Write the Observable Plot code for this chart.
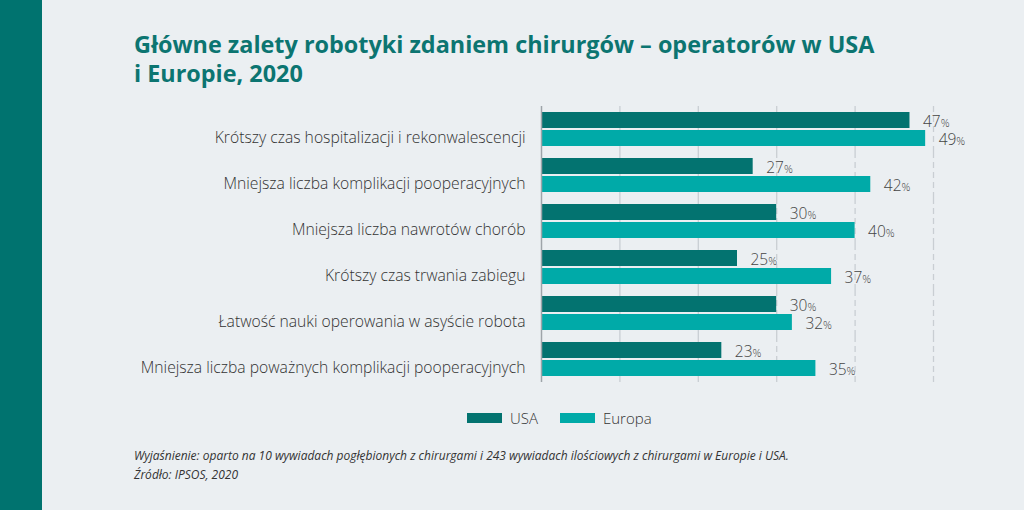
<!DOCTYPE html>
<html>
<head>
<meta charset="utf-8">
<script src="https://cdn.jsdelivr.net/npm/d3@7"></script>
<script src="https://cdn.jsdelivr.net/npm/@observablehq/plot@0.6"></script>
<style>
  html, body { margin: 0; padding: 0; }
  body { width: 1024px; height: 510px; background: #ebeff2; position: relative; overflow: hidden; font-family: "Open Sans", sans-serif; }
  #stripe { position: absolute; left: 0; top: 0; width: 42px; height: 510px; background: #00736f; }
  .title { position: absolute; left: 134px; font-size: 23.4px; line-height: 26px; font-weight: 700; color: #0c7571; white-space: nowrap; }
  #t1 { top: 31px; }
  #t2 { top: 60px; }
  #chart { position: absolute; left: 0; top: 96px; }
  #legend { position: absolute; left: 467px; top: 408px; display: flex; align-items: center; font-size: 15px; font-weight: 300; color: #333; }
  .sw { width: 35px; height: 10px; display: inline-block; margin-right: 8px; }
  .item { display: flex; align-items: center; margin-right: 22px; }
  #caption { position: absolute; left: 134px; top: 446px; font-size: 12px; line-height: 19px; font-style: italic; color: #333; }
</style>
</head>
<body>
<div id="stripe"></div>
<div class="title" id="t1">Główne zalety robotyki zdaniem chirurgów – operatorów w USA</div>
<div class="title" id="t2">i Europie, 2020</div>
<div id="chart"></div>
<div id="legend"></div>
<div id="caption">Wyjaśnienie: oparto na 10 wywiadach pogłębionych z chirurgami i 243 wywiadach ilościowych z chirurgami w Europie i USA.<br>Źródło: IPSOS, 2020</div>
<script>
const categories = [
  "Krótszy czas hospitalizacji i rekonwalescencji",
  "Mniejsza liczba komplikacji pooperacyjnych",
  "Mniejsza liczba nawrotów chorób",
  "Krótszy czas trwania zabiegu",
  "Łatwość nauki operowania w asyście robota",
  "Mniejsza liczba poważnych komplikacji pooperacyjnych"
];
const usa = [47, 27, 30, 25, 30, 23];
const europa = [49, 42, 40, 37, 32, 35];
const seriesNames = ["USA", "Europa"];
const seriesColors = ["#037370", "#00aaa8"];
const xTicks = [10, 20, 30, 40, 50];

const data = categories.flatMap((c, i) => [
  {category: c, series: "USA", value: usa[i]},
  {category: c, series: "Europa", value: europa[i]}
]);

const chart = Plot.plot({
  width: 1024,
  height: 296,
  marginLeft: 541,
  marginRight: 91,
  marginTop: 10,
  marginBottom: 10,
  style: {background: "transparent", fontFamily: "'Open Sans', sans-serif", overflow: "visible"},
  x: {domain: [0, 50], axis: null},
  y: {domain: seriesNames, paddingInner: 2 / 18, paddingOuter: 6 / 18, axis: null},
  fy: {domain: categories, padding: 0, axis: null},
  color: {domain: seriesNames, range: seriesColors},
  facet: {data, y: "category"},
  marks: [
    Plot.ruleX(xTicks, {stroke: "#c9ced3", strokeDasharray: "6,4", strokeWidth: 1.3}),
    Plot.barX(data, {x: "value", y: "series", fill: "series"}),
    Plot.ruleX([0], {stroke: "#9ea4a9", strokeWidth: 1.5}),
    Plot.text(data, {x: "value", y: "series", text: d => d.value + "%", textAnchor: "start", dx: 13, dy: 2, fontSize: 15.5, fontWeight: 300, fill: "#444"}),
    Plot.text(data, {x: 0, y: "series", text: d => d.series === "Europa" ? d.category : "", textAnchor: "end", dx: -16, dy: -1, fontSize: 15.7, fontWeight: 300, fill: "#333"})
  ]
});

// make the "%" sign smaller than the number
d3.select(chart).selectAll("text").each(function() {
  const t = this.textContent;
  if (/^\d+%$/.test(t)) {
    const sel = d3.select(this);
    sel.text(null);
    sel.append("tspan").text(t.slice(0, -1));
    sel.append("tspan").attr("font-size", 11).text("%");
  }
});

document.getElementById("chart").appendChild(chart);

const legend = d3.select("#legend");
seriesNames.forEach((s, i) => {
  const it = legend.append("div").attr("class", "item");
  it.append("span").attr("class", "sw").style("background", seriesColors[i]);
  it.append("span").text(s);
});
</script>
</body>
</html>
